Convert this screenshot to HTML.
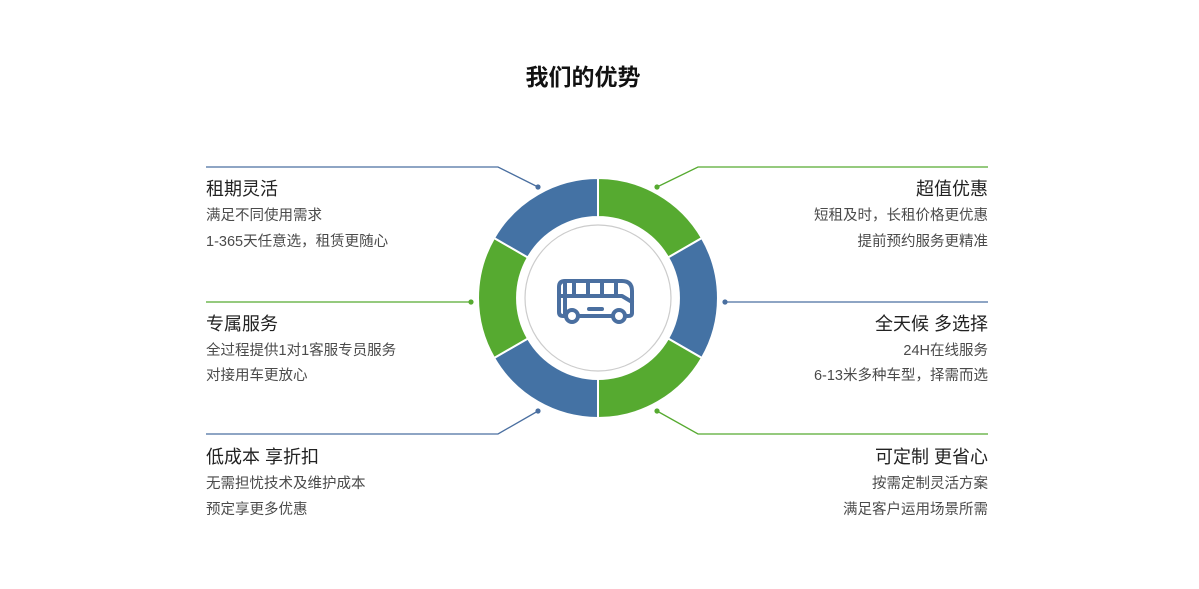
<!DOCTYPE html>
<html><head><meta charset="utf-8"><style>
body{margin:0;width:1199px;height:589px;background:#fff;position:relative;overflow:hidden;font-family:"Liberation Sans","Noto Sans CJK SC",sans-serif}
.t{position:absolute;white-space:nowrap}
.h{font-size:18px;color:#222}
.s{font-size:14.5px;color:#4a4a4a}
.r{text-align:right;right:211px}
.l{left:206px}
</style></head><body>
<div class="t" style="left:483px;width:200px;text-align:center;top:58px;font-size:23px;font-weight:bold;color:#111">我们的优势</div>
<svg width="1199" height="589" style="position:absolute;left:0;top:0">
<g stroke="#fff" stroke-width="2">
<path d="M598 178 A120 120 0 0 1 701.9 238 L668.1 257.5 A81 81 0 0 0 598 217Z" fill="#56aa30"/>
<path d="M701.9 238 A120 120 0 0 1 701.9 358 L668.1 338.5 A81 81 0 0 0 668.1 257.5Z" fill="#4472a4"/>
<path d="M701.9 358 A120 120 0 0 1 598 418 L598 379 A81 81 0 0 0 668.1 338.5Z" fill="#56aa30"/>
<path d="M598 418 A120 120 0 0 1 494.1 358 L527.9 338.5 A81 81 0 0 0 598 379Z" fill="#4472a4"/>
<path d="M494.1 358 A120 120 0 0 1 494.1 238 L527.9 257.5 A81 81 0 0 0 527.9 338.5Z" fill="#56aa30"/>
<path d="M494.1 238 A120 120 0 0 1 598 178 L598 217 A81 81 0 0 0 527.9 257.5Z" fill="#4472a4"/>
</g>
<circle cx="598" cy="298" r="73" fill="none" stroke="#ccc" stroke-width="1.2"/>
<g fill="none" stroke-width="1.3">
<polyline points="206,167 498,167 538,187" stroke="#4a6fa0"/>
<polyline points="206,302 471,302" stroke="#56aa30"/>
<polyline points="206,434 498,434 538,411" stroke="#4a6fa0"/>
<polyline points="988,167 698,167 657,187" stroke="#56aa30"/>
<polyline points="988,302 725,302" stroke="#4a6fa0"/>
<polyline points="988,434 698,434 657,411" stroke="#56aa30"/>
</g>
<circle cx="538" cy="187" r="2.6" fill="#4a6fa0"/>
<circle cx="471" cy="302" r="2.6" fill="#56aa30"/>
<circle cx="538" cy="411" r="2.6" fill="#4a6fa0"/>
<circle cx="657" cy="187" r="2.6" fill="#56aa30"/>
<circle cx="725" cy="302" r="2.6" fill="#4a6fa0"/>
<circle cx="657" cy="411" r="2.6" fill="#56aa30"/>
<g fill="none" stroke="#4a6fa0" stroke-width="4" stroke-linejoin="round" stroke-linecap="round">
<path d="M565 281 H622 Q632 281 632 291 V313 Q632 316 628 316 H626 M612 316 H579 M565 316 H563 Q559 316 559 312 V287 Q559 281 565 281Z"/>
<path d="M559 296 H622 L632 302"/>
<path d="M574 281 V296 M588 281 V296 M602 281 V296 M616 281 V296"/>
<path d="M589 309 H602"/>
<circle cx="572" cy="316" r="6" fill="#fff"/>
<circle cx="619" cy="316" r="6" fill="#fff"/>
</g>
</svg>
<div class="t h l" style="top:175px">租期灵活</div>
<div class="t s l" style="top:204px">满足不同使用需求</div>
<div class="t s l" style="top:230px">1-365天任意选，租赁更随心</div>
<div class="t h l" style="top:310px">专属服务</div>
<div class="t s l" style="top:339px">全过程提供1对1客服专员服务</div>
<div class="t s l" style="top:364px">对接用车更放心</div>
<div class="t h l" style="top:443px">低成本 享折扣</div>
<div class="t s l" style="top:472px">无需担忧技术及维护成本</div>
<div class="t s l" style="top:498px">预定享更多优惠</div>
<div class="t h r" style="top:175px">超值优惠</div>
<div class="t s r" style="top:204px">短租及时，长租价格更优惠</div>
<div class="t s r" style="top:230px">提前预约服务更精准</div>
<div class="t h r" style="top:310px">全天候 多选择</div>
<div class="t s r" style="top:339px">24H在线服务</div>
<div class="t s r" style="top:364px">6-13米多种车型，择需而选</div>
<div class="t h r" style="top:443px">可定制 更省心</div>
<div class="t s r" style="top:472px">按需定制灵活方案</div>
<div class="t s r" style="top:498px">满足客户运用场景所需</div>
</body></html>
